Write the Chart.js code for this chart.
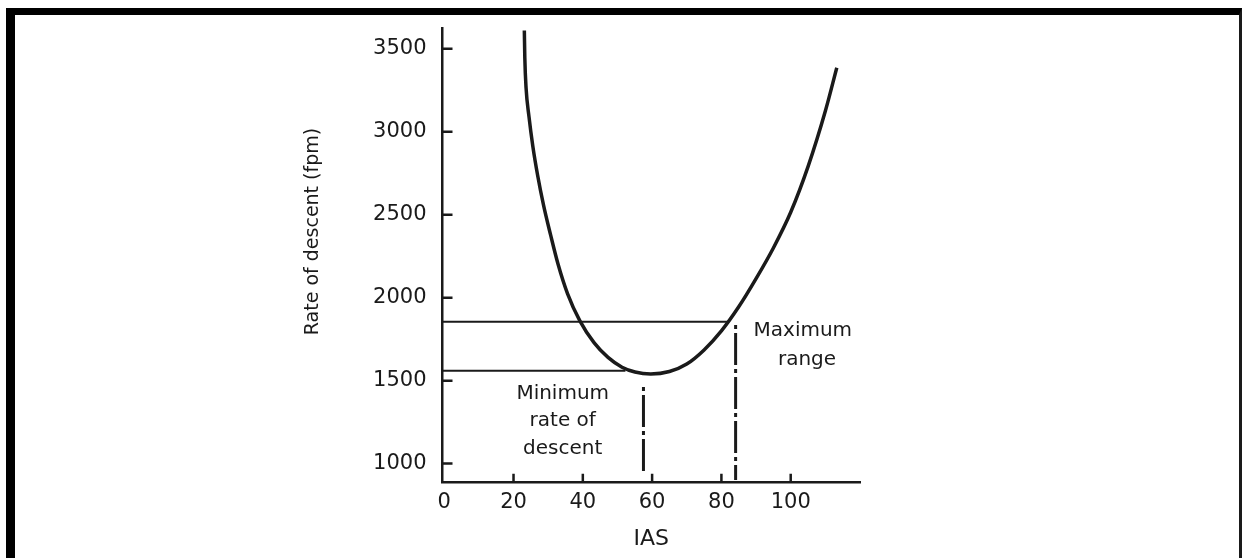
<!DOCTYPE html>
<html>
<head>
<meta charset="utf-8">
<script src="https://cdn.jsdelivr.net/npm/chart.js@4"></script>
<style>
html,body{margin:0;padding:0;background:#fff;overflow:hidden;}
#wrap{position:relative;width:1243px;height:558px;overflow:hidden;}
#frame{position:absolute;left:6px;top:8px;width:1224px;height:600px;border-left:9px solid #000;border-top:7px solid #000;border-right:3px solid #1a1a1a;}
#c{position:absolute;left:0;top:0;}
</style>
</head>
<body>
<div id="wrap">
  <div id="frame"></div>
  <canvas id="c" width="1243" height="558"></canvas>
</div>
<script>
// ---- data ----
const xTicks = [0, 20, 40, 60, 80, 100];
const yTicks = [1000, 1500, 2000, 2500, 3000, 3500];
const xTickMarks = [20, 40, 60, 80, 100];
const ias     = [23.12, 23.26, 23.61, 24.47, 25.57, 26.98, 28.66, 30.68, 32.84, 35.58, 39.19, 43.23, 47.27, 51.31, 55.06, 59.6, 65, 70, 75, 80, 85, 90, 95, 100, 105, 110, 113.3];
const descent = [3611, 3445, 3267, 3090, 2913, 2735, 2558, 2380, 2203, 2025, 1859, 1729, 1640, 1581, 1552, 1540, 1555, 1600, 1685, 1800, 1945, 2115, 2300, 2515, 2790, 3125, 3386];
const minRateX = [-0.5, 52.3];
const minRateY = [1560, 1560];
const maxRangeX = [-0.5, 81.8];
const maxRangeY = [1855, 1855];
const minDropX = [57.5, 57.5];
const minDropY = [1462, 935];
const maxDropX = [84.1, 84.1];
const maxDropY = [1835, 901];
const minLabel = ['Minimum', 'rate of', 'descent'];
const minLabelX = 34.2, minLabelY = [1421, 1256, 1090];
const maxLabel = ['Maximum', 'range'];
const maxLabelX = [103.5, 104.7], maxLabelY = [1800, 1623];

const pts = (xs, ys) => xs.map((x, i) => ({x: x, y: ys[i]}));
const FONT = 'DejaVu Sans';
const INK = '#1a1a1a';

const innerTicks = {
  id: 'innerTicks',
  afterDraw(chart) {
    const {ctx, chartArea, scales: {x, y}} = chart;
    ctx.save();
    ctx.strokeStyle = INK;
    ctx.lineWidth = 2.5;
    ctx.beginPath();
    yTicks.forEach(v => {
      const py = y.getPixelForValue(v);
      ctx.moveTo(chartArea.left, py);
      ctx.lineTo(chartArea.left + 10, py);
    });
    xTickMarks.forEach(v => {
      const px = x.getPixelForValue(v);
      ctx.moveTo(px, chartArea.bottom);
      ctx.lineTo(px, chartArea.bottom - 9);
    });
    ctx.stroke();
    ctx.restore();
  }
};

const labels = {
  id: 'labels',
  afterDatasetsDraw(chart) {
    const {ctx, scales: {x, y}} = chart;
    ctx.save();
    ctx.fillStyle = INK;
    ctx.font = '20px "' + FONT + '"';
    ctx.textAlign = 'center';
    ctx.textBaseline = 'middle';
    minLabel.forEach((t, i) => ctx.fillText(t, x.getPixelForValue(minLabelX), y.getPixelForValue(minLabelY[i])));
    maxLabel.forEach((t, i) => ctx.fillText(t, x.getPixelForValue(maxLabelX[i]), y.getPixelForValue(maxLabelY[i])));
    ctx.restore();
  }
};

const dropStyle = {borderColor: INK, borderWidth: 3, pointRadius: 0, borderDash: [4, 4, 32, 4], borderCapStyle: 'butt', fill: false};
const hStyle = {borderColor: INK, borderWidth: 2, pointRadius: 0, fill: false};

new Chart(document.getElementById('c'), {
  type: 'line',
  data: {
    datasets: [
      {data: pts(ias, descent), borderColor: INK, borderWidth: 3.5, pointRadius: 0, cubicInterpolationMode: 'monotone', fill: false},
      Object.assign({data: pts(minRateX, minRateY)}, hStyle),
      Object.assign({data: pts(maxRangeX, maxRangeY)}, hStyle),
      Object.assign({data: pts(minDropX, minDropY)}, dropStyle),
      Object.assign({data: pts(maxDropX, maxDropY)}, dropStyle)
    ]
  },
  options: {
    responsive: false,
    animation: false,
    events: [],
    layout: {padding: {left: 290, right: 383, top: 20, bottom: 0}},
    plugins: {legend: {display: false}, tooltip: {enabled: false}},
    scales: {
      x: {
        type: 'linear', min: -0.5, max: 120,
        afterBuildTicks: s => { s.ticks = xTicks.map(v => ({value: v})); },
        afterFit: s => { s.height = 75.3; },
        grid: {display: false, drawTicks: false},
        border: {display: true, color: INK, width: 2.5},
        ticks: {color: INK, font: {family: FONT, size: 21}, padding: 7, maxRotation: 0, autoSkip: false, callback: v => String(v)},
        title: {display: true, text: 'IAS', color: INK, font: {family: FONT, size: 22}, padding: {top: 0, bottom: 6}}
      },
      y: {
        type: 'linear', min: 885, max: 3622,
        afterBuildTicks: s => { s.ticks = yTicks.map(v => ({value: v})); },
        afterFit: s => { s.width = 152.5; },
        grid: {display: false, drawTicks: false},
        border: {display: true, color: INK, width: 2.5},
        ticks: {color: INK, font: {family: FONT, size: 21}, padding: 16, autoSkip: false, callback: v => String(v)},
        title: {display: true, text: '\u00A0\u00A0\u00A0\u00A0\u00A0\u00A0\u00A0\u00A0Rate of descent (fpm)', color: INK, font: {family: FONT, size: 19}, padding: {top: 12, bottom: 0}}
      }
    }
  },
  plugins: [innerTicks, labels]
});
</script>
</body>
</html>
